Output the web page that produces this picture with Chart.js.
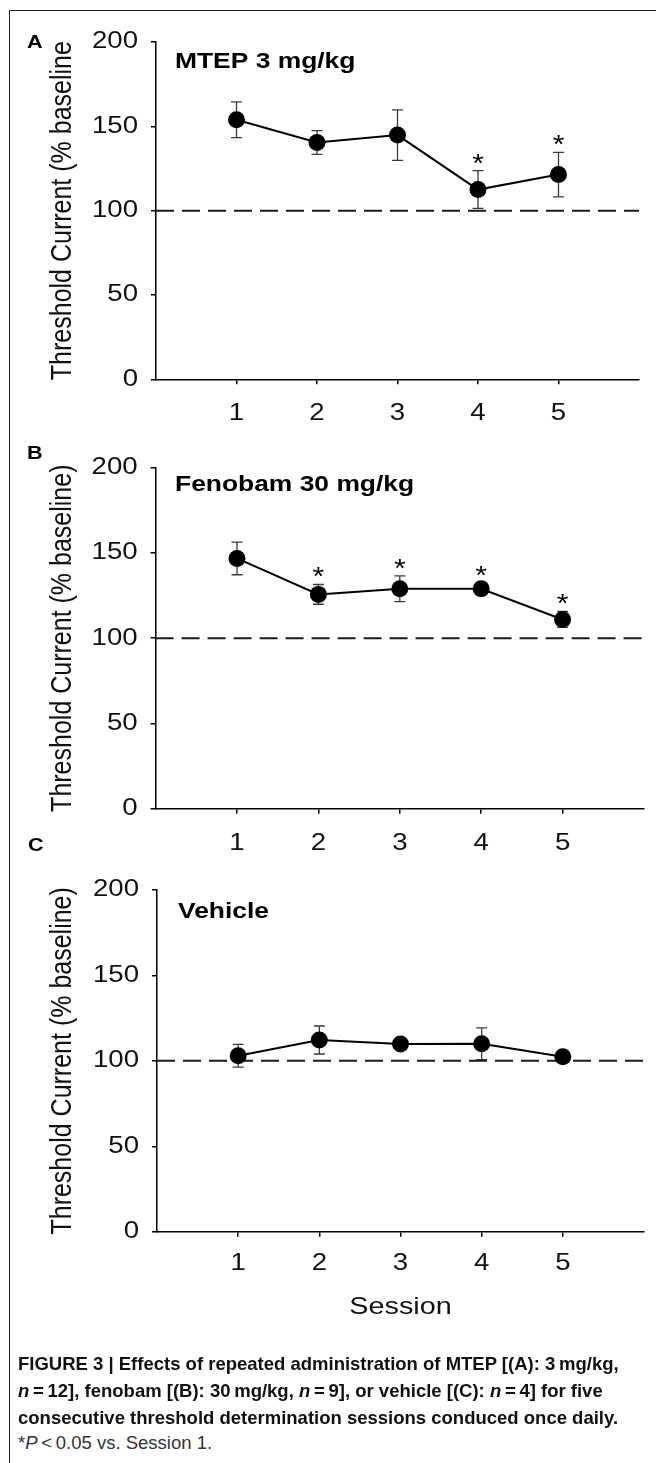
<!DOCTYPE html>
<html><head><meta charset="utf-8">
<script src="https://cdn.jsdelivr.net/npm/chart.js@4.4.1/dist/chart.umd.min.js"></script>
<style>
html,body{margin:0;padding:0;background:#fff;}
body{width:656px;height:1463px;position:relative;overflow:hidden;font-family:"Liberation Sans",Arial,sans-serif;}
canvas{position:absolute;left:0;}
#frame{position:absolute;left:9px;top:10px;width:700px;height:1500px;border-left:1.5px solid #222;border-top:1.5px solid #222;}
.cap{position:absolute;left:18px;white-space:nowrap;font-weight:bold;font-size:18.5px;line-height:18.5px;color:#111;}
.cap.light{font-weight:normal;color:#333;}
</style></head><body>
<div id="frame"></div>
<canvas id="cA" width="656" height="440"></canvas>
<canvas id="cB" width="656" height="440"></canvas>
<canvas id="cC" width="656" height="510"></canvas>
<div class="cap" style="top:1355px">FIGURE 3 | Effects of repeated administration of MTEP [(A): 3&#8201;mg/kg,</div>
<div class="cap" style="top:1382px"><i>n</i>&#8201;=&#8201;12], fenobam [(B): 30&#8201;mg/kg, <i>n</i>&#8201;=&#8201;9], or vehicle [(C): <i>n</i>&#8201;=&#8201;4] for five</div>
<div class="cap" style="top:1409px">consecutive threshold determination sessions conduced once daily.</div>
<div class="cap light" style="top:1434px">*<i>P</i>&#8201;&lt;&#8201;0.05 vs. Session 1.</div>
<script>
// ---- data ----
const sessions = [1, 2, 3, 4, 5];
const yTicks = [0, 50, 100, 150, 200];
const baselinePct = 100;

const mtepMean = [153.9, 140.4, 144.8, 112.5, 121.4];
const mtepSem  = [10.6, 7.0, 15.0, 11.2, 13.2];
const mtepSig  = [false, false, false, true, true];

const fenobamMean = [146.8, 125.7, 129.0, 129.0, 111.0];
const fenobamSem  = [9.6, 5.8, 7.5, 3.6, 4.7];
const fenobamSig  = [false, true, true, true, true];

const vehicleMean = [103.0, 112.2, 109.9, 110.0, 102.4];
const vehicleSem  = [6.7, 8.2, 2.0, 9.3, 2.0];
const vehicleSig  = [false, false, false, false, false];

// ---- layout ----
const FONT = '"Liberation Sans", Arial, sans-serif';
const STRETCH = 1.2;
const panels = {
  cA: {top: 0, height: 440, areaTop: 42, areaBottom: 379.3, areaLeft: 156, areaRight: 639, tickPad: 15.2,
       letter: 'A', letterPos: [27, 48], label: 'MTEP 3 mg/kg', labelPos: [175, 67.7],
       yTitle: 'Threshold Current (% baseline', mean: mtepMean, sem: mtepSem, sig: mtepSig, xTitle: null},
  cB: {top: 420, height: 440, areaTop: 47.7, areaBottom: 388.7, areaLeft: 155.6, areaRight: 644, tickPad: 15.8,
       letter: 'B', letterPos: [27, 39], label: 'Fenobam 30 mg/kg', labelPos: [175, 71],
       yTitle: 'Threshold Current (% baseline)', mean: fenobamMean, sem: fenobamSem, sig: fenobamSig, xTitle: null},
  cC: {top: 830, height: 510, areaTop: 60, areaBottom: 401.7, areaLeft: 157, areaRight: 644, tickPad: 12.8,
       letter: 'C', letterPos: [28, 21], label: 'Vehicle', labelPos: [178, 88],
       yTitle: 'Threshold Current (% baseline)', mean: vehicleMean, sem: vehicleSem, sig: vehicleSig, xTitle: 'Session'}
};

function stretchText(ctx, s) {
  const orig = ctx.fillText.bind(ctx);
  ctx.fillText = function (text, x, y, maxWidth) {
    const m = ctx.getTransform();
    const p = m.transformPoint(new DOMPoint(x, y));
    ctx.save();
    ctx.setTransform(new DOMMatrix().translate(p.x, p.y).scale(s, 1).translate(-p.x, -p.y).multiply(m));
    if (maxWidth === undefined) orig(text, x, y); else orig(text, x, y, maxWidth);
    ctx.restore();
  };
}

const decorPlugin = {
  id: 'decor',
  beforeDatasetsDraw(chart) {
    const p = panels[chart.canvas.id];
    const {ctx, scales: {x, y}} = chart;
    ctx.save();
    ctx.strokeStyle = '#3a3a3a';
    ctx.lineWidth = 1.3;
    p.mean.forEach((m, i) => {
      const px = x.getPixelForValue(sessions[i]);
      const t = y.getPixelForValue(m + p.sem[i]);
      const b = y.getPixelForValue(m - p.sem[i]);
      ctx.beginPath();
      ctx.moveTo(px, t); ctx.lineTo(px, b);
      ctx.moveTo(px - 5.5, t); ctx.lineTo(px + 5.5, t);
      ctx.moveTo(px - 5.5, b); ctx.lineTo(px + 5.5, b);
      ctx.stroke();
    });
    ctx.restore();
  },
  afterDatasetsDraw(chart) {
    const p = panels[chart.canvas.id];
    const {ctx, scales: {x, y}} = chart;
    ctx.save();
    ctx.fillStyle = '#000';
    ctx.textAlign = 'center';
    ctx.textBaseline = 'alphabetic';
    ctx.font = '25px ' + FONT;
    p.mean.forEach((m, i) => {
      if (!p.sig[i]) return;
      const px = x.getPixelForValue(sessions[i]);
      const t = y.getPixelForValue(m + p.sem[i]);
      ctx.fillText('*', px, t + 1);
    });
    ctx.textAlign = 'left';
    ctx.font = 'bold 18px ' + FONT;
    ctx.fillText(p.letter, p.letterPos[0], p.letterPos[1]);
    ctx.font = 'bold 22px ' + FONT;
    ctx.fillText(p.label, p.labelPos[0], p.labelPos[1]);
    ctx.restore();
  }
};

function makeChart(id) {
  const p = panels[id];
  const canvas = document.getElementById(id);
  canvas.style.top = p.top + 'px';
  const ctx = canvas.getContext('2d');
  stretchText(ctx, STRETCH);
  return new Chart(ctx, {
    type: 'line',
    data: {
      datasets: [
        {
          data: sessions.map((s, i) => ({x: s, y: p.mean[i]})),
          borderColor: '#000', borderWidth: 2, tension: 0,
          pointRadius: 8.5, pointHoverRadius: 8.5, pointBackgroundColor: '#000', pointBorderWidth: 0,
          order: 1
        },
        {
          data: [{x: 0, y: baselinePct}, {x: 6, y: baselinePct}],
          borderColor: '#1a1a1a', borderWidth: 2, borderDash: [18, 8], pointRadius: 0, order: 2
        }
      ]
    },
    options: {
      responsive: false, animation: false, devicePixelRatio: 1,
      layout: {padding: {top: p.areaTop, left: 0, right: 656 - p.areaRight, bottom: 0}},
      plugins: {legend: {display: false}, tooltip: {enabled: false}},
      scales: {
        x: {
          type: 'linear', min: 0, max: 6,
          afterBuildTicks: s => { s.ticks = sessions.map(v => ({value: v})); },
          afterFit: s => { s.height = p.height - p.areaBottom; },
          ticks: {font: {family: FONT, size: 23}, color: '#111', padding: p.tickPad, maxRotation: 0, autoSkip: false},
          grid: {display: true, drawOnChartArea: false, drawTicks: true, tickLength: 5, color: '#000', lineWidth: 1.5},
          border: {display: true, color: '#000', width: 1.5},
          title: {display: !!p.xTitle, text: p.xTitle || '', font: {family: FONT, size: 24}, color: '#111',
                  padding: {top: 0, bottom: 18}}
        },
        y: {
          min: 0, max: 200,
          afterBuildTicks: s => { s.ticks = yTicks.map(v => ({value: v})); },
          afterFit: s => { s.width = p.areaLeft; },
          ticks: {font: {family: FONT, size: 23}, color: '#111', padding: 13},
          grid: {display: true, drawOnChartArea: false, drawTicks: true, tickLength: 5, color: '#000', lineWidth: 1.5},
          border: {display: true, color: '#000', width: 1.5},
          title: {display: true, text: p.yTitle, font: {family: FONT, size: 25}, color: '#111',
                  padding: {top: 48, bottom: 0}}
        }
      }
    },
    plugins: [decorPlugin]
  });
}

['cA', 'cB', 'cC'].forEach(makeChart);
</script>
</body></html>
